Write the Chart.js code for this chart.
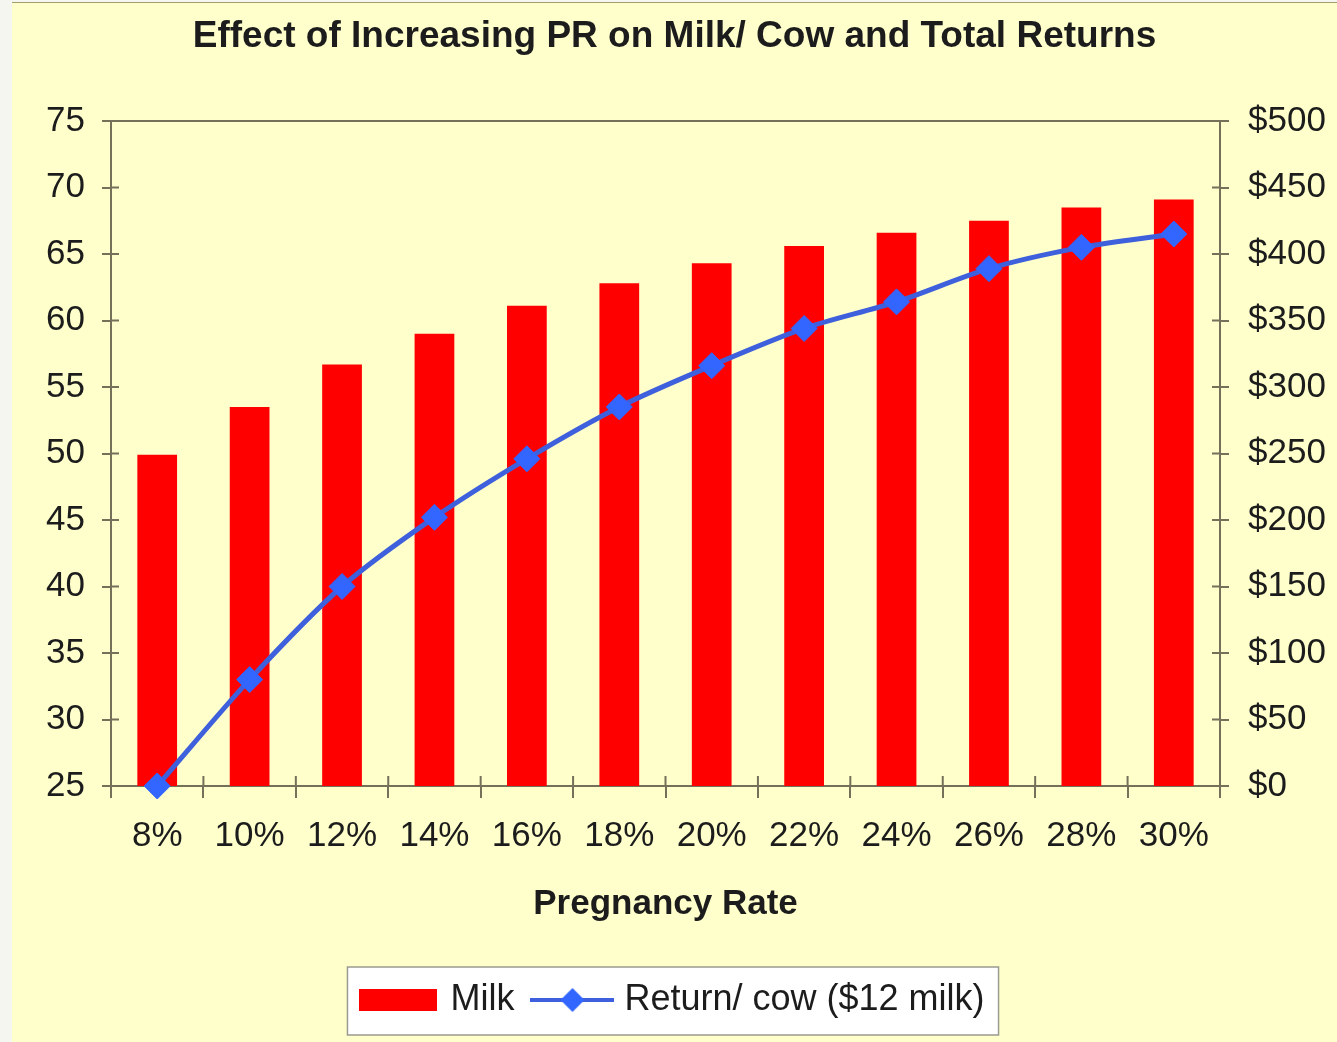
<!DOCTYPE html>
<html lang="en">
<head>
<meta charset="utf-8">
<script src="https://cdn.jsdelivr.net/npm/chart.js"></script>
<style>
  body { margin: 0; background: #f6f6f1; }
  #wrap { position: absolute; left: 12px; top: 2px; width: 1325px; height: 1039px; border-top: 1px solid #a39d70; }
</style>
</head>
<body>
<div id="wrap"><canvas id="myChart" width="1325" height="1039"></canvas></div>
<script>
// values
const rates = ['8%', '10%', '12%', '14%', '16%', '18%', '20%', '22%', '24%', '26%', '28%', '30%'];
const milk = [49.9, 53.5, 56.7, 59.0, 61.1, 62.8, 64.3, 65.6, 66.6, 67.5, 68.5, 69.1];
const returns = [0, 80, 150, 202, 246, 285, 316, 344, 364, 389, 405, 415];

const FONT = "'Liberation Sans', Arial, sans-serif";
const AXIS = '#74705a';
const TEXT = '#1c1c1c';

// legend icons (a bit wider than pointStyleWidth so the gaps match)
function milkIcon() {
    const c = document.createElement('canvas');
    c.width = 78; c.height = 22;
    const g = c.getContext('2d');
    g.fillStyle = '#ff0000';
    g.fillRect(0, 0, 78, 22);
    return c;
}
function returnIcon() {
    const c = document.createElement('canvas');
    c.width = 84; c.height = 26;
    const g = c.getContext('2d');
    g.strokeStyle = '#3f60dc';
    g.lineWidth = 4;
    g.beginPath(); g.moveTo(0, 13); g.lineTo(84, 13); g.stroke();
    g.fillStyle = '#3366ff';
    g.beginPath(); g.moveTo(42, 1); g.lineTo(54, 13); g.lineTo(42, 25); g.lineTo(30, 13); g.closePath(); g.fill();
    return c;
}

const frame = {
    id: 'frame',
    beforeDraw(chart) {
        const ctx = chart.ctx;
        ctx.save();
        ctx.fillStyle = '#ffffcc';
        ctx.fillRect(0, 0, chart.width, chart.height);
        const hb = chart.legend.legendHitBoxes;
        if (hb && hb.length) {
            const last = hb[hb.length - 1];
            const l = hb[0].left - 17, t = hb[0].top - 15;
            const r = last.left + last.width + 14, b = hb[0].top + hb[0].height + 17;
            ctx.fillStyle = '#ffffff';
            ctx.fillRect(l, t, r - l, b - t);
            ctx.strokeStyle = '#9a9a90';
            ctx.lineWidth = 1.5;
            ctx.strokeRect(l, t, r - l, b - t);
        }
        ctx.restore();
    },
    beforeDatasetsDraw(chart) {
        const {ctx, chartArea: a, scales} = chart;
        ctx.save();
        ctx.strokeStyle = AXIS;
        ctx.lineWidth = 2;
        ctx.beginPath();
        // top border of plot area
        ctx.moveTo(a.left, a.top); ctx.lineTo(a.right, a.top);
        // inner halves of tick marks
        scales.y.ticks.forEach(t => {
            const p = scales.y.getPixelForValue(t.value);
            ctx.moveTo(a.left, p); ctx.lineTo(a.left + 8, p);
        });
        scales.y1.ticks.forEach(t => {
            const p = scales.y1.getPixelForValue(t.value);
            ctx.moveTo(a.right - 8, p); ctx.lineTo(a.right, p);
        });
        const step = (a.right - a.left) / rates.length;
        for (let i = 0; i <= rates.length; i++) {
            const x = a.left + i * step;
            ctx.moveTo(x, a.bottom - 10); ctx.lineTo(x, a.bottom);
        }
        ctx.stroke();
        ctx.restore();
    }
};

const ctx = document.getElementById('myChart').getContext('2d');
const chart = new Chart(ctx, {
    type: 'bar',
    data: {
        labels: rates,
        datasets: [{
            type: 'bar',
            label: 'Milk',
            data: milk,
            backgroundColor: '#ff0000',
            barPercentage: 0.43,
            categoryPercentage: 1,
            yAxisID: 'y',
            order: 2
        }, {
            type: 'line',
            label: 'Return/ cow ($12 milk)',
            data: returns,
            borderColor: '#3f60dc',
            borderWidth: 5,
            tension: 0.3,
            pointStyle: 'rectRot',
            pointRadius: 13,
            pointBackgroundColor: '#3366ff',
            pointBorderColor: '#3366ff',
            pointBorderWidth: 1,
            clip: false,
            yAxisID: 'y1',
            order: 1
        }]
    },
    options: {
        responsive: false,
        animation: false,
        devicePixelRatio: 1,
        layout: { padding: { left: 0, right: 0, top: 0, bottom: 14 } },
        plugins: {
            title: {
                display: true,
                text: 'Effect of Increasing PR on Milk/ Cow and Total Returns',
                color: TEXT,
                font: { family: FONT, size: 37, weight: 'bold' },
                padding: { top: 12, bottom: 61.6 }
            },
            legend: {
                position: 'bottom',
                labels: {
                    usePointStyle: true,
                    pointStyleWidth: 68,
                    padding: 24,
                    color: TEXT,
                    font: { family: FONT, size: 36 },
                    generateLabels: () => [
                        { text: 'Milk', pointStyle: milkIcon(), fillStyle: '#ff0000', strokeStyle: 'transparent', lineWidth: 0, hidden: false, datasetIndex: 0, fontColor: TEXT },
                        { text: 'Return/ cow ($12 milk)', pointStyle: returnIcon(), fillStyle: '#3366ff', strokeStyle: 'transparent', lineWidth: 0, hidden: false, datasetIndex: 1, fontColor: TEXT }
                    ]
                }
            },
            tooltip: { enabled: false }
        },
        scales: {
            x: {
                grid: { drawOnChartArea: false, tickLength: 12, color: AXIS, lineWidth: 2 },
                border: { color: AXIS, width: 2 },
                ticks: { color: TEXT, font: { family: FONT, size: 35 }, padding: 17, maxRotation: 0 },
                title: {
                    display: true,
                    text: 'Pregnancy Rate',
                    color: TEXT,
                    font: { family: FONT, size: 35, weight: 'bold' },
                    padding: { top: 0, bottom: 33 }
                },
                afterFit: s => { s.height = 172; }
            },
            y: {
                position: 'left',
                min: 25,
                max: 75,
                grid: { drawOnChartArea: false, tickLength: 9, color: AXIS, lineWidth: 2 },
                border: { color: AXIS, width: 2 },
                ticks: { stepSize: 5, color: TEXT, font: { family: FONT, size: 35 }, padding: 17 },
                afterFit: s => { s.width = 99; }
            },
            y1: {
                position: 'right',
                min: 0,
                max: 500,
                grid: { drawOnChartArea: false, tickLength: 9, color: AXIS, lineWidth: 2 },
                border: { color: AXIS, width: 2 },
                ticks: { stepSize: 50, color: TEXT, font: { family: FONT, size: 35 }, padding: 19, callback: v => '$' + v },
                afterFit: s => { s.width = 117; }
            }
        }
    },
    plugins: [frame]
});
</script>
</body>
</html>
